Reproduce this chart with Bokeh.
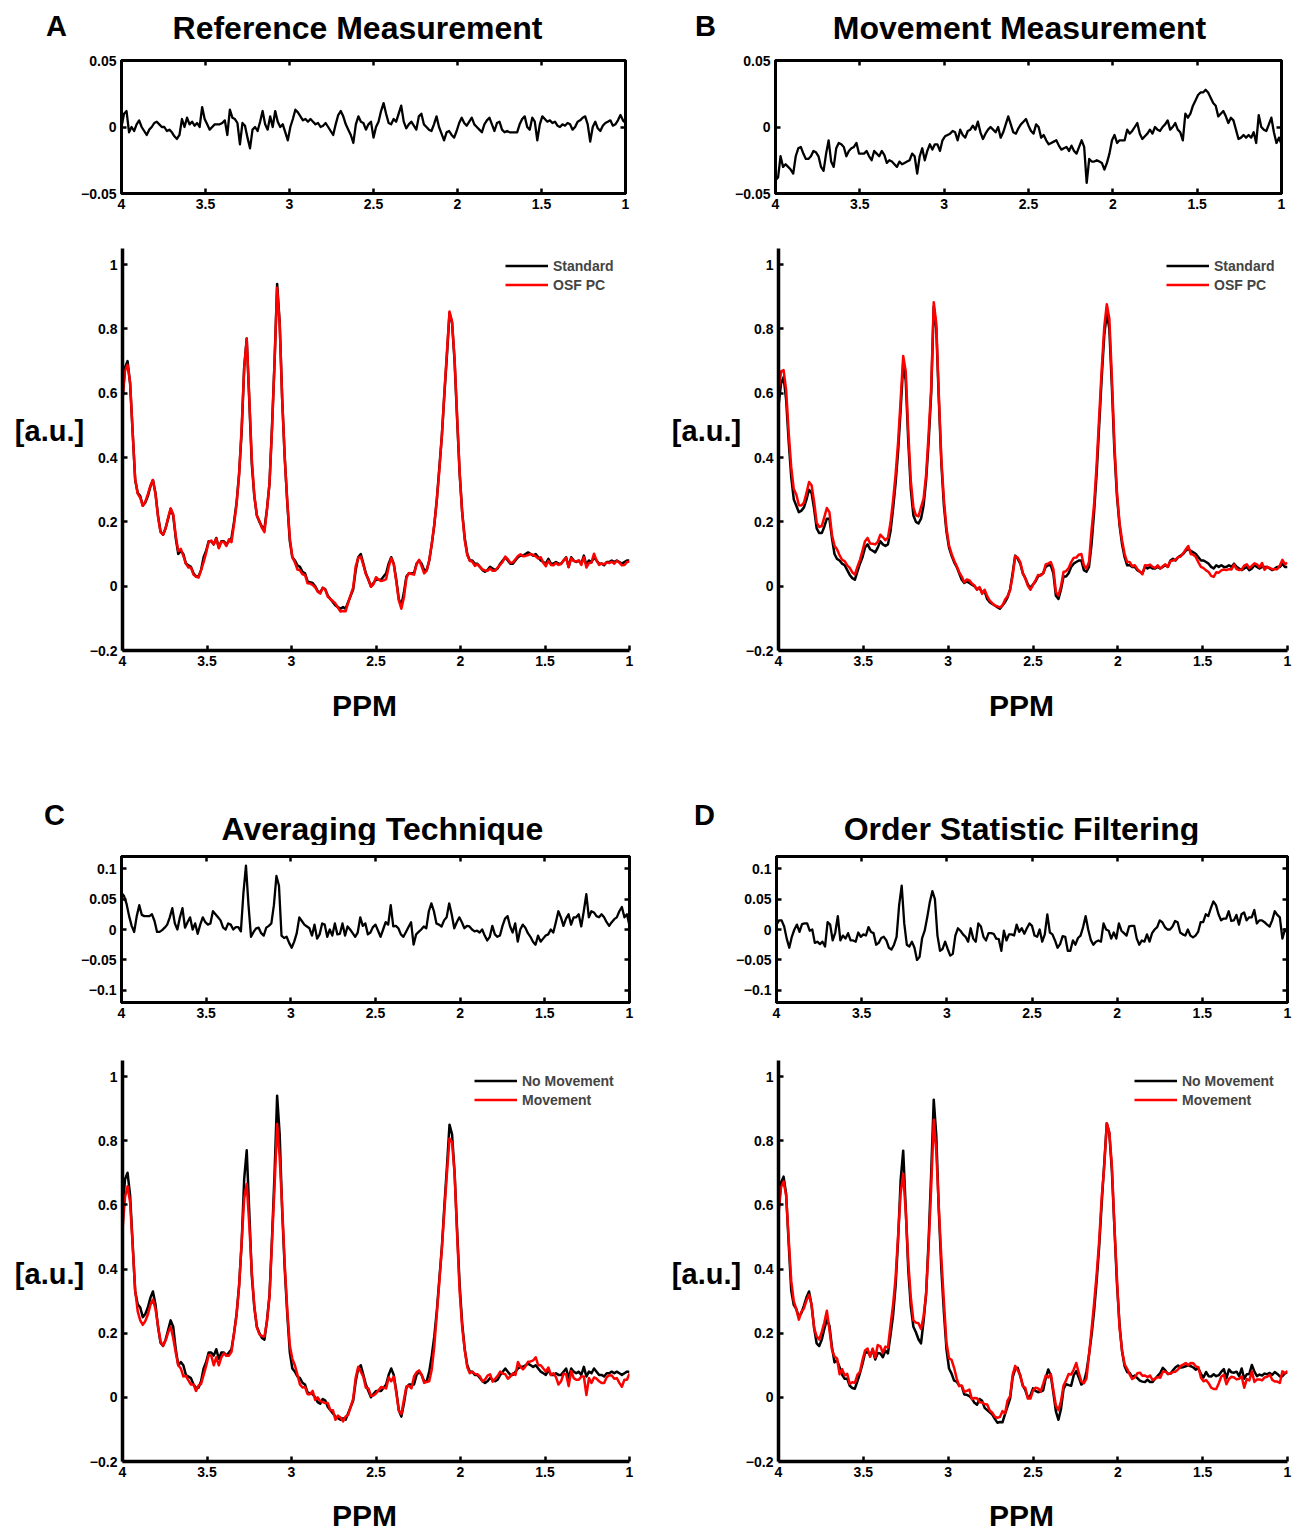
import numpy as np
from bokeh.plotting import figure
from bokeh.models import (Range1d, FixedTicker, Legend, LegendItem,
                          LinearAxis, CustomJSTickFormatter)
from bokeh.core.properties import value
from bokeh.layouts import column, row
from bokeh.embed import file_html
from bokeh.resources import INLINE

# ---------------- data ----------------
ppm_start, ppm_step, n_points = 4.0, 0.015, 201
ppm = np.round(ppm_start - ppm_step * np.arange(n_points), 3)

# "Standard" spectrum, reference (no movement) measurement  (panel A black / C black)
spec_reference = [
    0.58, 0.68, 0.70, 0.63, 0.48, 0.33, 0.29, 0.28, 0.25, 0.26,
    0.28, 0.31, 0.33, 0.29, 0.22, 0.17, 0.16, 0.18, 0.21, 0.24,
    0.22, 0.15, 0.10, 0.11, 0.10, 0.07, 0.065, 0.06, 0.04, 0.03,
    0.03, 0.05, 0.09, 0.11, 0.14, 0.14, 0.13, 0.15, 0.12, 0.14,
    0.14, 0.13, 0.14, 0.15, 0.20, 0.26, 0.35, 0.48, 0.68, 0.77,
    0.58, 0.38, 0.28, 0.22, 0.20, 0.185, 0.18, 0.24, 0.32, 0.50,
    0.70, 0.94, 0.82, 0.58, 0.40, 0.26, 0.14, 0.09, 0.08, 0.065,
    0.06, 0.045, 0.04, 0.015, 0.012, 0.01, 0.0, -0.015, -0.02, -0.005,
    -0.01, -0.03, -0.04, -0.05, -0.06, -0.065, -0.07, -0.065, -0.07, -0.05,
    -0.03, -0.01, 0.05, 0.09, 0.10, 0.07, 0.04, 0.02, 0.0, 0.01,
    0.02, 0.02, 0.02, 0.03, 0.04, 0.07, 0.09, 0.07, 0.02, -0.04,
    -0.06, -0.02, 0.03, 0.04, 0.04, 0.04, 0.07, 0.08, 0.07, 0.05,
    0.05, 0.08, 0.13, 0.19, 0.27, 0.37, 0.47, 0.60, 0.72, 0.85,
    0.82, 0.70, 0.52, 0.35, 0.23, 0.15, 0.10, 0.08, 0.08, 0.07,
    0.07, 0.06, 0.05, 0.045, 0.05, 0.06, 0.055, 0.05, 0.055, 0.07,
    0.08, 0.09, 0.08, 0.07, 0.07, 0.08, 0.09, 0.095, 0.095, 0.10,
    0.105, 0.10, 0.095, 0.10, 0.09, 0.08, 0.075, 0.07, 0.085, 0.07,
    0.07, 0.075, 0.07, 0.07, 0.08, 0.09, 0.06, 0.09, 0.08, 0.075,
    0.08, 0.07, 0.095, 0.065, 0.08, 0.075, 0.09, 0.08, 0.07, 0.07,
    0.065, 0.075, 0.075, 0.08, 0.075, 0.08, 0.075, 0.07, 0.075, 0.08,
    0.08]

# "Standard" spectrum, movement measurement (panel B black)
spec_movement = [
    0.56, 0.63, 0.65, 0.58, 0.45, 0.34, 0.27, 0.25, 0.23, 0.235,
    0.245, 0.27, 0.30, 0.29, 0.24, 0.18, 0.165, 0.165, 0.185, 0.21,
    0.21, 0.15, 0.10, 0.085, 0.08, 0.07, 0.065, 0.05, 0.035, 0.025,
    0.02, 0.045, 0.07, 0.09, 0.12, 0.13, 0.115, 0.11, 0.105, 0.12,
    0.14, 0.13, 0.125, 0.13, 0.17, 0.24, 0.32, 0.42, 0.55, 0.69,
    0.64, 0.45, 0.30, 0.22, 0.20, 0.195, 0.21, 0.25, 0.33, 0.45,
    0.60, 0.87, 0.80, 0.58, 0.38, 0.25, 0.17, 0.12, 0.095, 0.075,
    0.06, 0.04, 0.02, 0.01, 0.015, 0.01, 0.005, 0.0, -0.01, -0.005,
    -0.02, -0.015, -0.04, -0.05, -0.055, -0.06, -0.065, -0.07, -0.06, -0.05,
    -0.035, -0.01, 0.04, 0.095, 0.085, 0.07, 0.04, 0.025, 0.005, -0.005,
    0.005, 0.015, 0.03, 0.035, 0.04, 0.06, 0.065, 0.065, 0.04, -0.03,
    -0.04, -0.01, 0.03, 0.03, 0.04, 0.06, 0.07, 0.075, 0.08, 0.08,
    0.05, 0.045, 0.06, 0.13, 0.23, 0.35, 0.50, 0.65, 0.78, 0.85,
    0.80, 0.62, 0.42, 0.28, 0.19, 0.13, 0.09, 0.065, 0.065, 0.06,
    0.06, 0.05, 0.045, 0.04, 0.06, 0.055, 0.06, 0.055, 0.055, 0.06,
    0.055, 0.06, 0.065, 0.06, 0.08, 0.085, 0.08, 0.09, 0.095, 0.10,
    0.11, 0.115, 0.11, 0.105, 0.10, 0.09, 0.08, 0.08, 0.075, 0.07,
    0.06, 0.055, 0.065, 0.06, 0.065, 0.06, 0.06, 0.065, 0.06, 0.07,
    0.06, 0.055, 0.05, 0.055, 0.06, 0.05, 0.055, 0.065, 0.06, 0.055,
    0.06, 0.06, 0.06, 0.055, 0.05, 0.055, 0.06, 0.06, 0.07, 0.06,
    0.06]

# difference traces (black minus red) shown in the small upper plots
diff_A = [
    0.0, 0.010, 0.012, -0.004, 0.0, -0.003, 0.002, 0.005, 0.0, -0.003,
    -0.006, -0.002, 0.0, 0.003, 0.004, 0.002, 0.0, 0.0, -0.003, -0.002,
    -0.004, -0.007, -0.009, -0.006, 0.006, 0.0, 0.007, 0.002, 0.004, 0.001,
    0.003, 0.0, 0.015, 0.006, 0.002, -0.002, 0.0, 0.002, 0.002, 0.002,
    0.003, 0.005, -0.006, 0.013, 0.007, 0.006, 0.003, -0.013, 0.003, 0.001,
    -0.008, -0.016, -0.002, 0.0, -0.003, 0.004, 0.012, 0.002, -0.002, 0.008,
    0.0, 0.012, 0.004, 0.0, 0.002, -0.004, -0.010, 0.0, 0.006, 0.013,
    0.011, 0.008, 0.005, 0.006, 0.004, 0.006, 0.004, 0.002, 0.003, 0.0,
    0.001, 0.003, 0.0, -0.003, -0.006, 0.002, 0.009, 0.012, 0.008, 0.002,
    -0.002, -0.006, -0.012, 0.002, 0.008, 0.004, 0.003, -0.002, 0.002, 0.004,
    -0.008, 0.0, 0.004, 0.012, 0.018, 0.010, 0.003, 0.002, 0.006, 0.004,
    0.010, 0.016, 0.004, -0.001, 0.002, 0.004, 0.001, -0.002, 0.008, 0.010,
    0.002, 0.0, -0.002, -0.003, 0.002, 0.008, 0.0, -0.005, -0.010, -0.004,
    -0.003, -0.006, -0.008, -0.003, 0.003, 0.007, 0.003, 0.001, 0.004, 0.007,
    0.002, 0.0, -0.002, -0.004, 0.002, 0.005, 0.007, 0.002, -0.003, 0.003,
    0.004, -0.002, -0.004, -0.003, -0.004, -0.004, -0.004, -0.004, 0.002, 0.006,
    0.008, 0.0, -0.002, 0.007, 0.004, -0.010, 0.002, 0.008, 0.006, 0.004,
    0.005, 0.003, 0.004, 0.001, 0.0, 0.002, 0.001, 0.003, 0.002, -0.002,
    0.0, 0.004, 0.005, 0.007, 0.008, 0.002, -0.011, 0.0, 0.004, -0.001,
    -0.003, 0.001, 0.003, 0.004, 0.005, 0.001, 0.002, 0.005, 0.009, 0.005,
    0.003]

diff_B = [
    -0.040, -0.038, -0.022, -0.030, -0.028, -0.030, -0.032, -0.035, -0.022, -0.016,
    -0.015, -0.020, -0.024, -0.024, -0.022, -0.018, -0.019, -0.022, -0.030, -0.033,
    -0.020, -0.010, -0.026, -0.030, -0.016, -0.012, -0.013, -0.015, -0.022, -0.018,
    -0.016, -0.015, -0.012, -0.020, -0.020, -0.020, -0.018, -0.022, -0.025, -0.018,
    -0.020, -0.022, -0.018, -0.021, -0.027, -0.025, -0.026, -0.028, -0.030, -0.026,
    -0.028, -0.027, -0.026, -0.025, -0.020, -0.022, -0.035, -0.022, -0.016, -0.025,
    -0.018, -0.013, -0.017, -0.013, -0.013, -0.018, -0.010, -0.007, -0.006, -0.005,
    -0.003, -0.004, -0.010, -0.002, -0.006, -0.008, -0.003, -0.002, 0.001, -0.002,
    0.004, -0.004, -0.009, -0.005, -0.002, 0.0, -0.002, -0.004, 0.0, -0.008,
    -0.004, 0.002, 0.008, 0.002, -0.004, -0.005, -0.001, 0.002, 0.004, 0.006,
    0.001, -0.003, -0.005, 0.002, 0.0, -0.008, -0.006, -0.010, -0.013, -0.012,
    -0.011, -0.010, -0.014, -0.017, -0.016, -0.015, -0.018, -0.014, -0.018, -0.020,
    -0.015, -0.010, -0.015, -0.042, -0.024, -0.026, -0.026, -0.025, -0.026, -0.027,
    -0.032, -0.027, -0.020, -0.010, -0.006, -0.012, -0.010, -0.010, -0.010, -0.002,
    -0.005, -0.003, 0.0, 0.003, -0.005, -0.009, -0.007, -0.005, -0.002, -0.005,
    0.0, -0.002, -0.003, 0.0, 0.002, 0.005, -0.002, 0.0, 0.003, -0.002,
    -0.004, -0.010, 0.010, 0.007, 0.010, 0.016, 0.020, 0.024, 0.026, 0.026,
    0.028, 0.026, 0.022, 0.018, 0.016, 0.008, 0.010, 0.012, 0.008, 0.003,
    0.007, 0.005, -0.002, -0.009, -0.008, -0.006, -0.008, -0.006, -0.008, -0.004,
    -0.012, 0.009, 0.0, -0.002, -0.003, 0.002, 0.007, -0.004, -0.012, -0.008,
    -0.013]

diff_C = [
    0.060, 0.055, 0.042, 0.022, 0.006, -0.004, 0.022, 0.040, 0.024, 0.022,
    0.022, 0.022, 0.025, 0.014, -0.004, -0.004, -0.001, 0.003, 0.008, 0.020,
    0.035, 0.010, 0.0, 0.020, 0.035, 0.003, 0.012, 0.020, 0.0, 0.010,
    -0.007, 0.008, 0.020, 0.012, 0.008, 0.010, 0.030, 0.025, 0.020, 0.015,
    0.003, 0.0, 0.010, 0.008, 0.0, 0.004, 0.004, -0.003, 0.060, 0.105,
    0.040, -0.012, -0.004, 0.002, 0.003, -0.006, -0.010, 0.003, 0.006, 0.010,
    0.040, 0.088, 0.072, -0.010, -0.014, -0.012, -0.022, -0.030, -0.020, -0.006,
    0.020, 0.014, 0.008, 0.005, 0.002, -0.010, 0.008, -0.015, -0.008, 0.010,
    0.008, -0.012, 0.0, -0.010, 0.010, -0.008, -0.007, 0.010, -0.010, 0.005,
    0.0, -0.006, -0.012, -0.005, 0.020, 0.006, 0.010, -0.008, -0.005, 0.004,
    0.008, -0.002, -0.012, 0.0, 0.012, 0.008, 0.040, 0.005, 0.006, 0.002,
    -0.008, -0.012, -0.004, 0.004, 0.012, -0.025, -0.008, -0.004, 0.0, 0.005,
    0.002, 0.030, 0.043, 0.030, 0.010, 0.008, 0.005, 0.015, 0.020, 0.043,
    0.025, 0.002, 0.012, 0.020, 0.012, 0.002, 0.006, 0.005, 0.0, -0.003,
    -0.002, -0.005, 0.0, -0.010, -0.018, -0.012, 0.006, -0.008, -0.012, -0.010,
    0.006, 0.018, 0.022, 0.005, -0.005, 0.010, -0.020, 0.0, 0.008, 0.003,
    -0.006, -0.012, -0.020, -0.025, -0.010, -0.020, -0.015, -0.010, -0.008, 0.0,
    -0.005, 0.012, 0.030, 0.020, 0.006, 0.018, 0.025, 0.008, 0.020, 0.020,
    0.025, 0.005, 0.030, 0.058, 0.020, 0.030, 0.028, 0.022, 0.020, 0.025,
    0.020, 0.012, 0.006, 0.012, 0.017, 0.020, 0.030, 0.037, 0.020, 0.025,
    0.006]

diff_D = [
    0.008, 0.015, 0.015, 0.005, -0.015, -0.030, -0.012, 0.0, 0.008, -0.004,
    0.009, 0.010, 0.010, -0.002, 0.0, -0.022, -0.020, -0.024, -0.020, -0.028,
    0.012, 0.008, -0.018, -0.005, 0.022, -0.018, -0.010, -0.015, -0.006, -0.018,
    -0.018, -0.020, -0.005, -0.012, -0.008, -0.010, 0.004, -0.004, -0.006, -0.025,
    -0.022, -0.014, -0.012, -0.018, -0.030, -0.033, -0.025, -0.012, 0.040, 0.072,
    0.010, -0.025, -0.028, -0.020, -0.030, -0.050, -0.045, -0.014, -0.002, 0.020,
    0.045, 0.063, 0.050, -0.010, -0.035, -0.032, -0.020, -0.032, -0.043, -0.040,
    -0.010, 0.002, -0.002, -0.008, -0.012, -0.020, 0.002, -0.015, -0.020, 0.010,
    0.005, -0.012, -0.018, -0.006, -0.006, -0.007, -0.015, -0.016, -0.035, -0.002,
    -0.018, -0.008, -0.008, -0.010, 0.008, -0.004, 0.002, -0.007, 0.002, 0.010,
    0.006, -0.010, -0.012, 0.0, -0.020, -0.008, 0.025, -0.005, -0.008, -0.018,
    -0.030, -0.024, -0.011, -0.012, -0.035, -0.035, -0.018, -0.025, -0.014, -0.010,
    0.004, 0.022, 0.0, -0.017, -0.025, -0.020, -0.018, -0.020, 0.010, 0.0,
    -0.002, -0.015, -0.005, -0.015, 0.010, -0.002, -0.006, -0.010, 0.005, 0.006,
    0.006, -0.015, -0.025, -0.018, -0.020, -0.008, -0.020, -0.006, 0.0, 0.004,
    0.015, 0.012, 0.004, 0.0, 0.0, 0.005, 0.014, 0.012, -0.005, -0.008,
    -0.010, 0.0, -0.010, -0.013, -0.010, -0.004, 0.012, 0.012, 0.025, 0.022,
    0.035, 0.046, 0.040, 0.025, 0.015, 0.018, 0.018, 0.030, 0.014, 0.015,
    0.024, 0.008, 0.025, 0.028, 0.015, 0.020, 0.020, 0.032, 0.010, 0.015,
    0.015, 0.012, 0.008, 0.005, 0.015, 0.030, 0.024, 0.020, -0.015, 0.0,
    -0.005]

# red traces: black trace minus the plotted difference
spec_reference_osf = np.array(spec_reference) - np.array(diff_A)
spec_movement_osf = np.array(spec_movement) - np.array(diff_B)

panels = {
    "A": dict(title="Reference Measurement", labels=["Standard", "OSF PC"],
              black=np.array(spec_reference), red=spec_reference_osf, diff=diff_A),
    "B": dict(title="Movement Measurement", labels=["Standard", "OSF PC"],
              black=np.array(spec_movement), red=spec_movement_osf, diff=diff_B),
    "C": dict(title="Averaging Technique", labels=["No Movement", "Movement"],
              black=np.array(spec_reference), red=np.array(spec_reference) - np.array(diff_C), diff=diff_C),
    "D": dict(title="Order Statistic Filtering", labels=["No Movement", "Movement"],
              black=spec_reference_osf, red=spec_reference_osf - np.array(diff_D), diff=diff_D),
}

x_ticks = [4, 3.5, 3, 2.5, 2, 1.5, 1]
x_tick_labels = ["4", "3.5", "3", "2.5", "2", "1.5", "1"]
spec_y_ticks = [-0.2, 0, 0.2, 0.4, 0.6, 0.8, 1]
spec_y_labels = ["\u22120.2", "0", "0.2", "0.4", "0.6", "0.8", "1"]
diff_y_ticks_small = [-0.05, 0, 0.05]
diff_y_labels_small = ["\u22120.05", "0", "0.05"]
diff_y_ticks_large = [-0.1, -0.05, 0, 0.05, 0.1]
diff_y_labels_large = ["\u22120.1", "\u22120.05", "0", "0.05", "0.1"]

FONT = "Liberation Sans"

# ---------------- layout geometry (page pixels, page origin = top-left) ----------------
col_x = {"A": 0, "B": 658, "C": 0, "D": 658}
col_w = {"A": 658, "B": 639, "C": 658, "D": 639}
au_w = {"A": 86, "B": 84, "C": 86, "D": 84}
# vertical bands per row: head, top plot, bottom plot, foot
bands = {
    "A": dict(head=(0, 45), top=(45, 225), bot=(225, 680), foot=(680, 760)),
    "C": dict(head=(760, 845), top=(845, 1035), bot=(1035, 1490), foot=(1490, 1531)),
}
bands["B"] = bands["A"]
bands["D"] = bands["C"]
# frames (left, right, top, bottom)
top_frame = {"A": (121, 625, 60, 193), "B": (775, 1281, 60, 193),
             "C": (121, 629, 856, 1002), "D": (776, 1287, 856, 1002)}
bot_frame = {"A": (122, 629, 248, 650), "B": (776, 1287, 248, 650),
             "C": (122, 629, 1060, 1461), "D": (776, 1287, 1060, 1461)}
# text anchor positions (page px)
text_pos = {
    "A": dict(letter=(56, 25), title=(357, 27), au=(49, 430), ppm=(364, 705), legend=(505, 256)),
    "B": dict(letter=(705, 25), title=(1019, 27), au=(706, 430), ppm=(1021, 705), legend=(1164, 256)),
    "C": dict(letter=(54, 814), title=(382, 828), au=(49, 1273), ppm=(364, 1515), legend=(474, 1071)),
    "D": dict(letter=(704, 814), title=(1021, 828), au=(706, 1273), ppm=(1021, 1515), legend=(1132, 1071)),
}


def text_fig(x0, y0, w, h, items):
    """A bare figure whose frame fills it, used only to hold text at page positions."""
    p = figure(width=w, height=h, x_range=Range1d(x0, x0 + w), y_range=Range1d(y0 + h, y0),
               output_backend="svg", toolbar_location=None, tools="", title=None,
               x_axis_location=None, y_axis_location=None,
               min_border_left=0, min_border_right=0, min_border_top=0, min_border_bottom=0)
    p.grid.visible = False
    p.outline_line_color = None
    p.background_fill_color = "white"
    p.border_fill_color = "white"
    for (px, py), txt, size in items:
        p.text(x=[px], y=[py], text=[txt], text_font=value(FONT), text_font_style="bold",
               text_font_size=value(size), text_color="black",
               text_align="center", text_baseline="middle")
    # wrap so that the frame is not aligned with neighbouring plots
    return column(p)


def style_axis(ax, ticks, labels, lw=3):
    ax.ticker = FixedTicker(ticks=ticks)
    ax.major_label_overrides = {t: l for t, l in zip(ticks, labels)}
    ax.axis_line_width = lw
    ax.axis_line_color = "black"
    ax.major_tick_line_width = 2.5
    ax.major_tick_line_color = "black"
    ax.major_tick_in = 5
    ax.major_tick_out = 0
    ax.minor_tick_line_color = None
    ax.major_label_text_font = FONT
    ax.major_label_text_font_style = "bold"
    ax.major_label_text_font_size = "14px"
    ax.major_label_text_color = "black"
    ax.major_label_standoff = 5


def plot_fig(x0, y0, w, h, frame, yr):
    L, R, T, B = frame
    p = figure(width=w, height=h, x_range=Range1d(4, 1), y_range=Range1d(*yr),
               output_backend="svg", toolbar_location=None, tools="", title=None,
               min_border_left=L - x0, min_border_right=x0 + w - R,
               min_border_top=T - y0, min_border_bottom=y0 + h - B)
    p.grid.visible = False
    p.background_fill_color = "white"
    p.border_fill_color = "white"
    return p


def build_panel(name):
    pdat = panels[name]
    tp = text_pos[name]
    bd = bands[name]
    cx, cw = col_x[name], col_w[name]

    head = text_fig(cx, bd["head"][0], cw, bd["head"][1] - bd["head"][0],
                    [(tp["letter"], name, "29px"), (tp["title"], pdat["title"], "32px")])

    # ---- upper difference plot ----
    big = name in "CD"
    yr = (-0.12, 0.12) if big else (-0.05, 0.05)
    yt, yl = (diff_y_ticks_large, diff_y_labels_large) if big else (diff_y_ticks_small, diff_y_labels_small)
    pt = plot_fig(cx, bd["top"][0], cw, bd["top"][1] - bd["top"][0], top_frame[name], yr)
    pt.line(ppm, pdat["diff"], line_color="black", line_width=2.3, line_join="round")
    style_axis(pt.xaxis[0], x_ticks, x_tick_labels)
    style_axis(pt.yaxis[0], yt, yl)
    pt.outline_line_color = "black"
    pt.outline_line_width = 3
    for side, ticks in (("above", x_ticks), ("right", yt)):
        ax = LinearAxis(ticker=FixedTicker(ticks=ticks),
                        formatter=CustomJSTickFormatter(code="return ''"))
        ax.axis_line_width = 3
        ax.major_tick_line_width = 2.5
        ax.major_tick_in = 5
        ax.major_tick_out = 0
        ax.minor_tick_line_color = None
        ax.major_label_standoff = 0
        pt.add_layout(ax, side)

    # ---- lower spectrum plot ----
    by0, by1 = bd["bot"]
    aw = au_w[name]
    au = text_fig(cx, by0, aw, by1 - by0, [(tp["au"], "[a.u.]", "29px")])
    frame = bot_frame[name]
    pb = plot_fig(cx + aw, by0, cw - aw, by1 - by0, frame, (-0.2, 1.05))
    pb.outline_line_color = None
    rb = pb.line(ppm, pdat["black"], line_color="black", line_width=2.5, line_join="round")
    rr = pb.line(ppm, pdat["red"], line_color="#ff0000", line_width=2.5, line_join="round")
    style_axis(pb.xaxis[0], x_ticks, x_tick_labels, lw=3.5)
    style_axis(pb.yaxis[0], spec_y_ticks, spec_y_labels, lw=3.5)
    lx, ly = tp["legend"]
    L, R, T, B = frame
    legend = Legend(items=[LegendItem(label=pdat["labels"][0], renderers=[rb]),
                           LegendItem(label=pdat["labels"][1], renderers=[rr])],
                    location=(lx - L, B - (ly + 38)),
                    background_fill_alpha=0, border_line_color=None,
                    padding=0, spacing=0, margin=0,
                    glyph_width=43, glyph_height=19, label_height=19,
                    label_standoff=5, label_text_font=FONT,
                    label_text_font_style="bold", label_text_font_size="14px")
    pb.add_layout(legend)

    foot = text_fig(cx, bd["foot"][0], cw, bd["foot"][1] - bd["foot"][0],
                    [(tp["ppm"], "PPM", "30px")])
    return column(head, pt, row(au, pb), foot)


layout = column(row(build_panel("A"), build_panel("B")),
                row(build_panel("C"), build_panel("D")))
open("out.html", "w").write(file_html(layout, INLINE))
